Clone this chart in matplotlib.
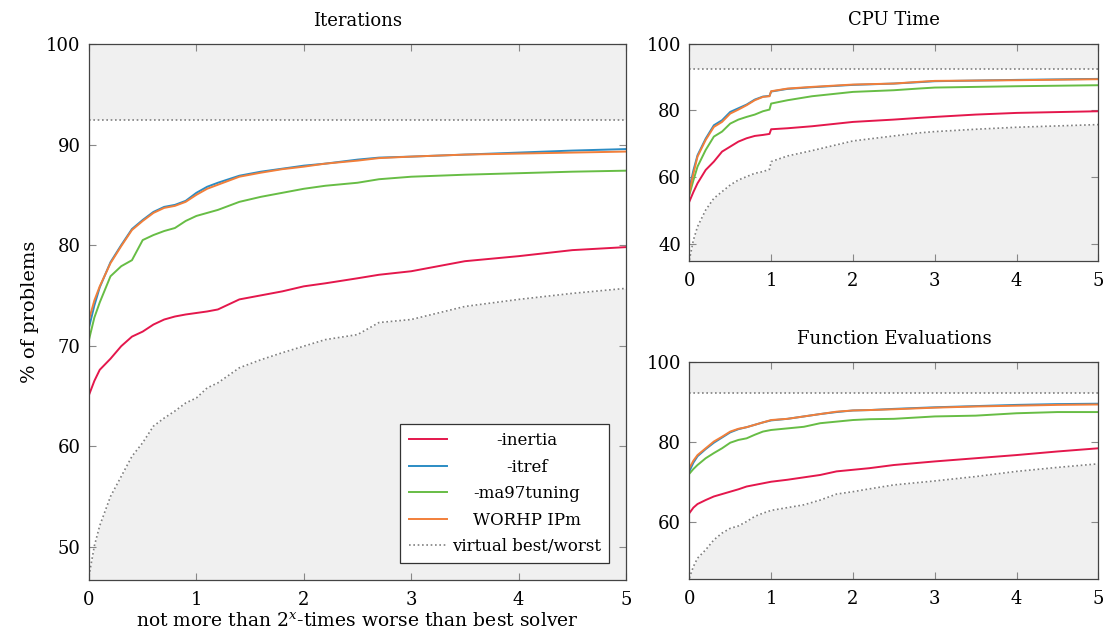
import numpy as np
import matplotlib
matplotlib.use("Agg")
import matplotlib.pyplot as plt

plt.rcParams['font.family'] = ['DejaVu Serif']
plt.rcParams['font.size'] = 12
plt.rcParams['mathtext.fontset'] = 'dejavuserif'

labels = ['-inertia', '-itref', '-ma97tuning', 'WORHP IPm']
colors = ['#e4174c', '#2b8cc4', '#67bd45', '#f27f3a']
shade = '#f0f0f0'
virtual_best = 92.4

# Iterations
x_it = [0, 0.05, 0.1, 0.2, 0.3, 0.4, 0.5, 0.6, 0.7, 0.8, 0.9, 1.0, 1.1, 1.2, 1.4,
        1.6, 1.8, 2.0, 2.2, 2.5, 2.7, 3.0, 3.5, 4.0, 4.5, 5.0]
inertia_it = [65.1, 66.5, 67.6, 68.7, 69.95, 70.9, 71.4, 72.1, 72.6, 72.9, 73.1, 73.25, 73.4,
              73.6, 74.6, 75.0, 75.4, 75.9, 76.2, 76.7, 77.05, 77.4, 78.4, 78.9, 79.5, 79.8]
itref_it = [71.8, 74.0, 75.8, 78.3, 80.0, 81.6, 82.5, 83.3, 83.8, 84.0, 84.4, 85.2, 85.8,
            86.2, 86.9, 87.3, 87.6, 87.9, 88.1, 88.5, 88.7, 88.8, 89.0, 89.2, 89.4, 89.55]
ma97_it = [70.6, 72.8, 74.3, 76.9, 77.9, 78.5, 80.5, 81.0, 81.4, 81.7, 82.4, 82.9, 83.2,
           83.5, 84.3, 84.8, 85.2, 85.6, 85.9, 86.2, 86.55, 86.8, 87.0, 87.15, 87.3, 87.4]
worhp_it = [72.6, 74.5, 75.9, 78.2, 79.9, 81.5, 82.4, 83.2, 83.7, 83.9, 84.3, 85.0, 85.6,
            86.0, 86.8, 87.2, 87.55, 87.8, 88.1, 88.4, 88.65, 88.8, 89.0, 89.1, 89.2, 89.3]
worst_it = [47.1, 50.1, 52.1, 55.0, 57.0, 59.0, 60.35, 62.0, 62.8, 63.5, 64.3, 64.8, 65.8,
            66.3, 67.8, 68.6, 69.3, 69.95, 70.6, 71.1, 72.3, 72.6, 73.9, 74.6, 75.2, 75.7]

# CPU time
x_cpu = [0, 0.05, 0.1, 0.2, 0.3, 0.4, 0.5, 0.6, 0.7, 0.8, 0.9, 0.98, 1.0, 1.2, 1.5,
         2.0, 2.5, 2.8, 3.0, 3.5, 4.0, 5.0]
inertia_cpu = [52.6, 55.5, 58.1, 62.1, 64.6, 67.6, 69.1, 70.6, 71.6, 72.3, 72.6, 72.9, 74.3,
               74.6, 75.2, 76.5, 77.2, 77.7, 78.0, 78.7, 79.2, 79.7]
itref_cpu = [56.5, 62.0, 66.5, 71.5, 75.5, 77.0, 79.5, 80.6, 81.7, 83.2, 84.1, 84.3, 85.6,
             86.4, 86.9, 87.6, 88.0, 88.4, 88.7, 88.9, 89.1, 89.4]
ma97_cpu = [54.6, 59.0, 63.1, 68.1, 72.1, 73.6, 76.0, 77.2, 78.0, 78.7, 79.7, 80.2, 82.0,
            83.0, 84.2, 85.5, 86.0, 86.5, 86.8, 87.0, 87.2, 87.5]
worhp_cpu = [55.5, 61.0, 66.1, 71.1, 75.0, 76.5, 79.0, 80.2, 81.5, 83.0, 84.0, 84.2, 85.7,
             86.5, 87.0, 87.7, 88.0, 88.5, 88.8, 88.9, 89.0, 89.3]
worst_cpu = [35.1, 41.1, 45.1, 50.1, 53.6, 55.6, 57.6, 59.1, 60.1, 61.1, 61.6, 62.3, 64.6,
             66.3, 67.9, 70.8, 72.3, 73.2, 73.6, 74.3, 74.9, 75.7]

# Function evaluations
x_fe = [0, 0.05, 0.1, 0.2, 0.3, 0.4, 0.5, 0.6, 0.7, 0.8, 0.9, 1.0, 1.2, 1.4, 1.6, 1.8,
        2.0, 2.2, 2.5, 3.0, 3.5, 4.0, 4.5, 5.0]
inertia_fe = [62.1, 63.5, 64.4, 65.4, 66.3, 66.9, 67.5, 68.1, 68.8, 69.2, 69.6, 70.0, 70.5,
              71.1, 71.7, 72.6, 73.0, 73.4, 74.2, 75.1, 75.9, 76.7, 77.6, 78.4]
itref_fe = [72.6, 74.8, 76.4, 78.2, 79.8, 81.1, 82.4, 83.2, 83.7, 84.3, 84.9, 85.4, 85.8,
            86.4, 87.0, 87.5, 87.9, 88.0, 88.3, 88.7, 89.0, 89.3, 89.5, 89.6]
ma97_fe = [72.0, 73.2, 74.2, 75.9, 77.2, 78.4, 79.8, 80.5, 80.9, 81.8, 82.6, 83.0, 83.4,
           83.8, 84.7, 85.1, 85.5, 85.7, 85.8, 86.4, 86.6, 87.2, 87.5, 87.5]
worhp_fe = [73.4, 75.3, 76.7, 78.4, 80.1, 81.3, 82.6, 83.3, 83.7, 84.3, 84.9, 85.5, 85.8,
            86.4, 87.0, 87.6, 87.9, 88.0, 88.2, 88.6, 88.9, 89.1, 89.3, 89.4]
worst_fe = [45.8, 48.7, 50.8, 52.9, 55.4, 57.1, 58.3, 58.9, 60.0, 61.3, 62.1, 62.8, 63.5,
            64.2, 65.4, 66.9, 67.5, 68.2, 69.2, 70.2, 71.3, 72.6, 73.6, 74.5]


def draw_profile(ax, x, series, worst, ylim, yticks, title):
    ax.set_xlim(0, 5)
    ax.set_ylim(*ylim)
    # shaded areas outside the virtual best/worst envelope
    ax.axhspan(virtual_best, ylim[1], color=shade, lw=0, zorder=0)
    ax.fill_between(x, ylim[0], worst, color=shade, lw=0, zorder=0)
    ax.axhline(virtual_best, color='#808080', lw=1.2, ls=(0, (1, 1.6)), zorder=1)
    ax.plot(x, worst, color='#808080', lw=1.2, ls=(0, (1, 1.6)), zorder=1,
            label='virtual best/worst')
    for ys, c, lab in zip(series, colors, labels):
        ax.plot(x, ys, color=c, lw=1.4, label=lab, zorder=2)
    ax.set_xticks(range(6))
    ax.set_yticks(yticks)
    ax.tick_params(direction='in', top=True, right=True, length=5, width=0.8,
                   color='#888888', labelsize=13)
    ax.tick_params(axis='x', pad=8)
    ax.tick_params(axis='y', pad=6)
    for sp in ax.spines.values():
        sp.set_color('#444444')
        sp.set_linewidth(0.9)
    ax.set_title(title, fontsize=13, pad=13)


fig = plt.figure(figsize=(11.07, 6.41), dpi=100)
ax_it = fig.add_axes([0.0804, 0.0952, 0.4851, 0.8362])
ax_cpu = fig.add_axes([0.6227, 0.5933, 0.3695, 0.3388])
ax_fe = fig.add_axes([0.6227, 0.0963, 0.3695, 0.3385])

draw_profile(ax_it, x_it, [inertia_it, itref_it, ma97_it, worhp_it], worst_it,
             (46.7, 100), range(50, 101, 10), 'Iterations')
draw_profile(ax_cpu, x_cpu, [inertia_cpu, itref_cpu, ma97_cpu, worhp_cpu], worst_cpu,
             (34.9, 100), range(40, 101, 20), 'CPU Time')
draw_profile(ax_fe, x_fe, [inertia_fe, itref_fe, ma97_fe, worhp_fe], worst_fe,
             (45.5, 100), range(60, 101, 20), 'Function Evaluations')

ax_it.set_ylabel('% of problems', fontsize=14, labelpad=5)
ax_it.set_xlabel(r'not more than $2^x$-times worse than best solver', fontsize=13.5,
                 labelpad=2)

handles, labs = ax_it.get_legend_handles_labels()
order = [1, 2, 3, 4, 0]
leg = ax_it.legend([handles[i] for i in order], [labs[i] for i in order],
                   loc='lower right', bbox_to_anchor=(0.969, 0.031), borderaxespad=0,
                   fancybox=False, framealpha=1, edgecolor='#333333', fontsize=12,
                   handlelength=2.3, labelspacing=0.57, borderpad=0.5, handletextpad=0.3)
leg.get_frame().set_linewidth(0.9)

# center the legend entries inside the text column
fig.canvas.draw()
renderer = fig.canvas.get_renderer()
widths = [t.get_window_extent(renderer).width for t in leg.get_texts()]
for t, w in zip(leg.get_texts(), widths):
    t.set_position(((max(widths) - w) / 2, 0))

fig.savefig('out.png', dpi=100)
